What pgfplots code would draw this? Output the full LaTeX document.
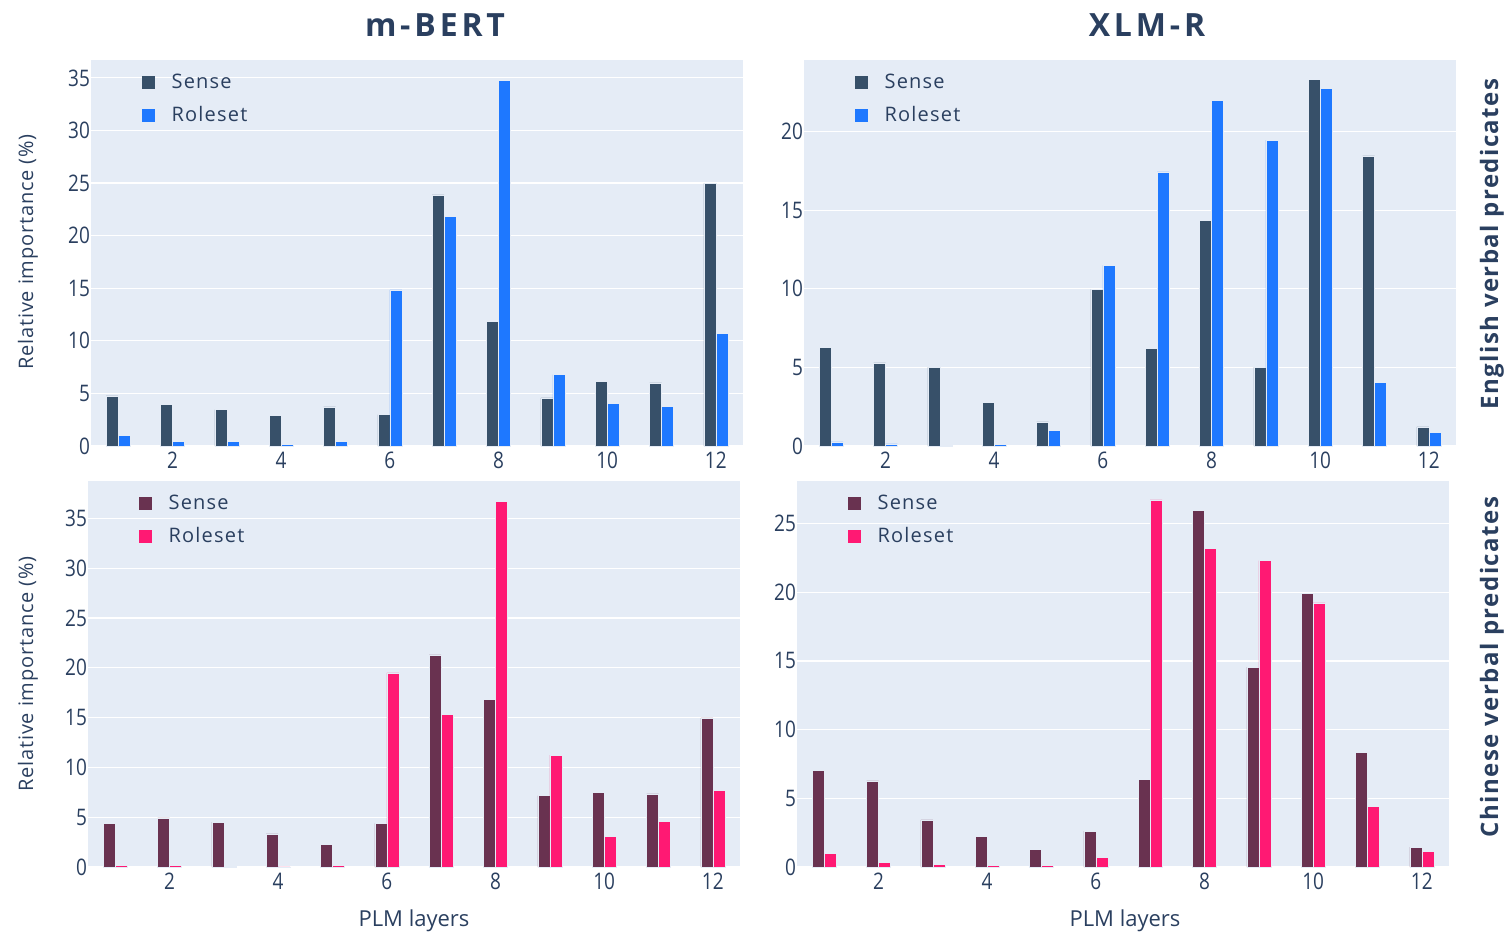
\documentclass[border=0pt]{standalone}
\usepackage{fontspec}
\setmainfont{Open Sans}
\usepackage{pgfplots}
\usepackage{pgfplotstable}
\pgfplotsset{compat=1.18}
\definecolor{bg}{HTML}{E5ECF6}
\definecolor{tickc}{HTML}{2A3F5F}
\definecolor{senseA}{RGB}{55,80,105}
\definecolor{roleA}{RGB}{30,120,255}
\definecolor{senseB}{RGB}{105,50,80}
\definecolor{roleB}{RGB}{255,25,115}

\pgfplotstableread{
layer sense role
1 4.76 0.98
2 3.93 0.44
3 3.46 0.41
4 2.92 0.19
5 3.71 0.41
6 2.98 14.84
7 23.87 21.85
8 11.86 34.78
9 4.57 6.79
10 6.18 4.06
11 5.99 3.80
12 24.98 10.68
}\tabTL
\pgfplotstableread{
layer sense role
1 6.25 0.26
2 5.29 0.13
3 5.01 0.06
4 2.79 0.09
5 1.54 0.98
6 9.96 11.49
7 6.23 17.44
8 14.33 21.96
9 5.01 19.45
10 23.30 22.73
11 18.46 4.05
12 1.22 0.85
}\tabTR
\pgfplotstableread{
layer sense role
1 4.37 0.20
2 4.93 0.13
3 4.50 0.10
4 3.33 0.02
5 2.27 0.20
6 4.37 19.50
7 21.30 15.33
8 16.80 36.70
9 7.17 11.23
10 7.50 3.10
11 7.33 4.57
12 14.97 7.73
}\tabBL
\pgfplotstableread{
layer sense role
1 7.02 0.97
2 6.27 0.34
3 3.44 0.17
4 2.25 0.12
5 1.26 0.12
6 2.61 0.68
7 6.39 26.72
8 25.97 23.21
9 14.55 22.31
10 19.94 19.22
11 8.33 4.43
12 1.45 1.16
}\tabBR

\pgfplotsset{panel/.style={
  scale only axis, width=326pt, height=193pt,
  anchor=north west,
  axis background/.style={fill=bg},
  axis line style={draw=none},
  ybar, bar width=0.22,
  xmin=0.5, xmax=12.5, ymin=0,
  xtick={2,4,...,12},
  major tick length=0pt,
  ymajorgrids, grid style={white, line width=0.6pt},
  tick label style={font=\fontsize{9.5}{11}\selectfont, text=tickc, yscale=1.2},
  xticklabel style={yshift=1pt},
  yticklabel style={xshift=3pt},
  /pgf/number format/assume math mode=true,
  legend style={draw=none, fill=none, inner sep=0pt, at={(0.077,0.975)}, anchor=north west,
    font=\fontsize{10}{12}\selectfont\addfontfeature{LetterSpace=6}, text=tickc, row sep=3.5pt,
    /tikz/every odd column/.append style={column sep=6.5pt}},
  legend cell align=left,
  legend image code/.code={\fill[##1, draw=none] (0pt,-3.2pt) rectangle (6.5pt,3.2pt);},
}}

\begin{document}
\begin{tikzpicture}
\path[use as bounding box] (0,0) rectangle (753pt,-466pt);

\begin{axis}[panel, at={(45.5pt,-30pt)}, ymax=36.7, ytick={0,5,...,35}]
\addplot[fill=senseA, draw=bg, line width=0.25pt, bar shift=-0.11] table[x=layer,y=sense]{\tabTL};
\addplot[fill=roleA, draw=bg, line width=0.25pt, bar shift=0.11] table[x=layer,y=role]{\tabTL};
\legend{Sense,Roleset}
\end{axis}

\begin{axis}[panel, at={(402pt,-30pt)}, ymax=24.55, ytick={0,5,...,20}]
\addplot[fill=senseA, draw=bg, line width=0.25pt, bar shift=-0.11] table[x=layer,y=sense]{\tabTR};
\addplot[fill=roleA, draw=bg, line width=0.25pt, bar shift=0.11] table[x=layer,y=role]{\tabTR};
\legend{Sense,Roleset}
\end{axis}

\begin{axis}[panel, at={(44pt,-240.5pt)}, ymax=38.75, ytick={0,5,...,35}]
\addplot[fill=senseB, draw=bg, line width=0.25pt, bar shift=-0.11] table[x=layer,y=sense]{\tabBL};
\addplot[fill=roleB, draw=bg, line width=0.25pt, bar shift=0.11] table[x=layer,y=role]{\tabBL};
\legend{Sense,Roleset}
\end{axis}

\begin{axis}[panel, at={(398.5pt,-240.5pt)}, ymax=28.1, ytick={0,5,...,25}]
\addplot[fill=senseB, draw=bg, line width=0.25pt, bar shift=-0.11] table[x=layer,y=sense]{\tabBR};
\addplot[fill=roleB, draw=bg, line width=0.25pt, bar shift=0.11] table[x=layer,y=role]{\tabBR};
\legend{Sense,Roleset}
\end{axis}

\node[text=tickc, font=\fontsize{16}{18}\selectfont\bfseries\addfontfeature{LetterSpace=12}] at (217.5pt,-12.5pt) {m-BERT};
\node[text=tickc, font=\fontsize{16}{18}\selectfont\bfseries\addfontfeature{LetterSpace=12}] at (573.5pt,-12.5pt) {XLM-R};
\node[rotate=90, text=tickc, font=\fontsize{12}{14}\selectfont\bfseries\addfontfeature{LetterSpace=6}] at (746pt,-122pt) {English verbal predicates};
\node[rotate=90, text=tickc, font=\fontsize{12}{14}\selectfont\bfseries\addfontfeature{LetterSpace=6}] at (746pt,-333.5pt) {Chinese verbal predicates};
\node[rotate=90, text=tickc, font=\fontsize{10}{12}\selectfont\addfontfeature{LetterSpace=4}] at (14pt,-126pt) {Relative importance (\%)};
\node[rotate=90, text=tickc, font=\fontsize{10}{12}\selectfont\addfontfeature{LetterSpace=4}] at (14pt,-337pt) {Relative importance (\%)};
\node[text=tickc, font=\fontsize{11}{13}\selectfont] at (207pt,-460.5pt) {PLM layers};
\node[text=tickc, font=\fontsize{11}{13}\selectfont] at (562.5pt,-460.5pt) {PLM layers};
\end{tikzpicture}
\end{document}
